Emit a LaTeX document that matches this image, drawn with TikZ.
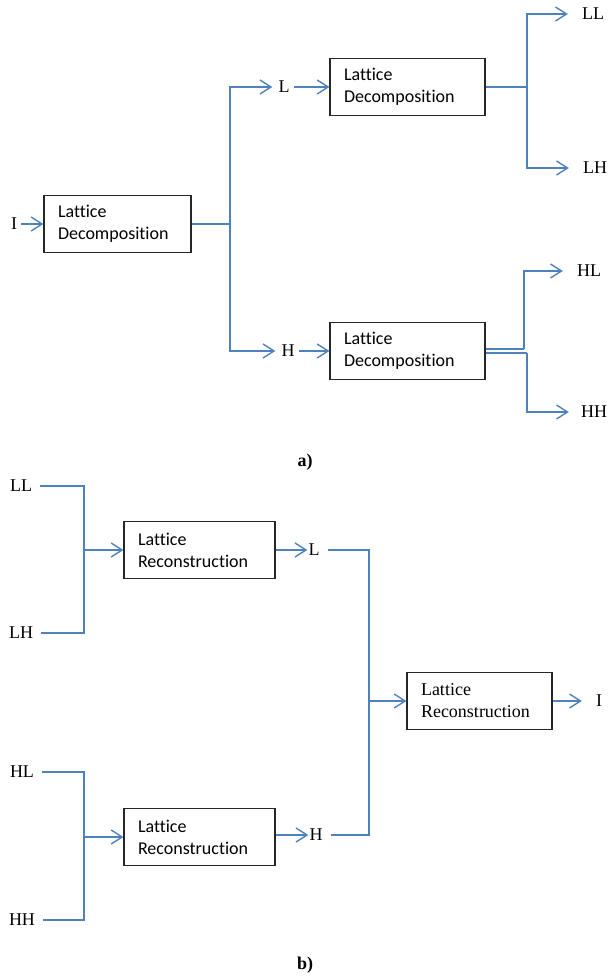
\documentclass[tikz,border=0pt]{standalone}
\usepackage{fontspec}
\setmainfont{Liberation Serif}
\newfontfamily\calib[Ligatures=NoCommon]{Carlito}
\usepackage{tikz}
\usetikzlibrary{arrows,arrows.meta,positioning,calc}
\definecolor{wire}{RGB}{79,129,189}
\tikzstyle{block}=[draw=black!85,line width=1.1pt,minimum height=57pt,inner xsep=14pt,align=left,font=\calib\fontsize{18}{22}\selectfont]
\tikzstyle{sblock}=[block,font=\fontsize{18}{22}\selectfont]
\tikzstyle{lbl}=[inner xsep=4pt,inner ysep=1pt,font=\fontsize{18}{22}\selectfont]
\tikzstyle{wr}=[draw=wire,line width=1.4pt]
\tikzstyle{sig}=[wr,-{Straight Barb[length=11pt,width=14pt]}]

\begin{document}
\begin{tikzpicture}[x=1pt,y=-1pt]
\useasboundingbox (0,0) rectangle (611,979);
% a) decomposition
\node [lbl] (I1) at (14,224) {I};
\node [block,text width=119pt] (dec1) at (117.5,224) {Lattice\\Decomposition};
\node [lbl] (L1) at (284,87) {L};
\node [lbl] (H1) at (288,351) {H};
\node [block,text width=127pt] (dec2) at (407.5,87) {Lattice\\Decomposition};
\node [block,text width=127pt] (dec3) at (407.5,351) {Lattice\\Decomposition};
\node [lbl] (LL1) at (593,14) {LL};
\node [lbl] (LH1) at (595,168) {LH};
\node [lbl] (HL1) at (589,271) {HL};
\node [lbl] (HH1) at (594,412) {HH};
\node [font=\bfseries\fontsize{18}{22}\selectfont] (capa) at (305,462) {a)};

\draw [sig] (I1) -- (dec1);
\coordinate (j1) at (230,224);
\draw [wr] (dec1) -- (j1);
\draw [sig,shorten >=2pt] (j1) |- (L1);
\draw [sig,shorten >=2pt] (j1) |- (H1);
\draw [sig] (L1) -- (dec2.west |- L1);
\draw [sig] (H1) -- (dec3.west |- H1);

\coordinate (j2) at (527,87);
\draw [wr] (dec2) -- (j2);
\draw [sig,shorten >=10pt] (j2) |- (LL1);
\draw [sig,shorten >=10pt] (j2) |- (LH1);

\coordinate (j3a) at (524,349);
\coordinate (j3b) at (527,353);
\draw [wr] (dec3.east |- j3a) -- (j3a);
\draw [wr] (dec3.east |- j3b) -- (j3b);
\draw [sig,shorten >=10pt] (j3a) |- (HL1);
\draw [sig,shorten >=8pt] (j3b) |- (HH1);

% b) reconstruction
\node [lbl] (LL2) at (21,486) {LL};
\node [lbl] (LH2) at (21,633) {LH};
\node [lbl] (HL2) at (22,772) {HL};
\node [lbl] (HH2) at (22,920) {HH};
\node [block,text width=123pt] (rec1) at (199.5,550) {Lattice\\Reconstruction};
\node [block,text width=123pt] (rec2) at (199.5,837) {Lattice\\Reconstruction};
\node [lbl,inner xsep=1pt] (L2) at (314,550) {L};
\node [lbl,inner xsep=1pt] (H2) at (316,835) {H};
\node [sblock,text width=117pt] (rec3) at (479.5,701) {Lattice\\Reconstruction};
\node [lbl] (I2) at (599,701) {I};
\node [font=\bfseries\fontsize{18}{22}\selectfont] (capb) at (305,965) {b)};

\coordinate (j4) at (84,550);
\draw [wr,shorten <=4pt] (LL2) -| (j4);
\draw [wr,shorten <=4pt] (LH2) -| (j4);
\draw [sig] (j4) -- (rec1);
\coordinate (j5) at (84,837);
\draw [wr,shorten <=4pt] (HL2) -| (j5);
\draw [wr,shorten <=4pt] (HH2) -| (j5);
\draw [sig] (j5) -- (rec2);

\draw [sig] (rec1.east |- L2) -- (L2);
\draw [sig] (rec2.east |- H2) -- (H2);
\coordinate (j6) at (369,701);
\draw [wr,shorten <=7pt] (L2) -| (j6);
\draw [wr,shorten <=7pt] (H2) -| (j6);
\draw [sig] (j6) -- (rec3);
\draw [sig,shorten >=10pt] (rec3) -- (I2);
\end{tikzpicture}
\end{document}
